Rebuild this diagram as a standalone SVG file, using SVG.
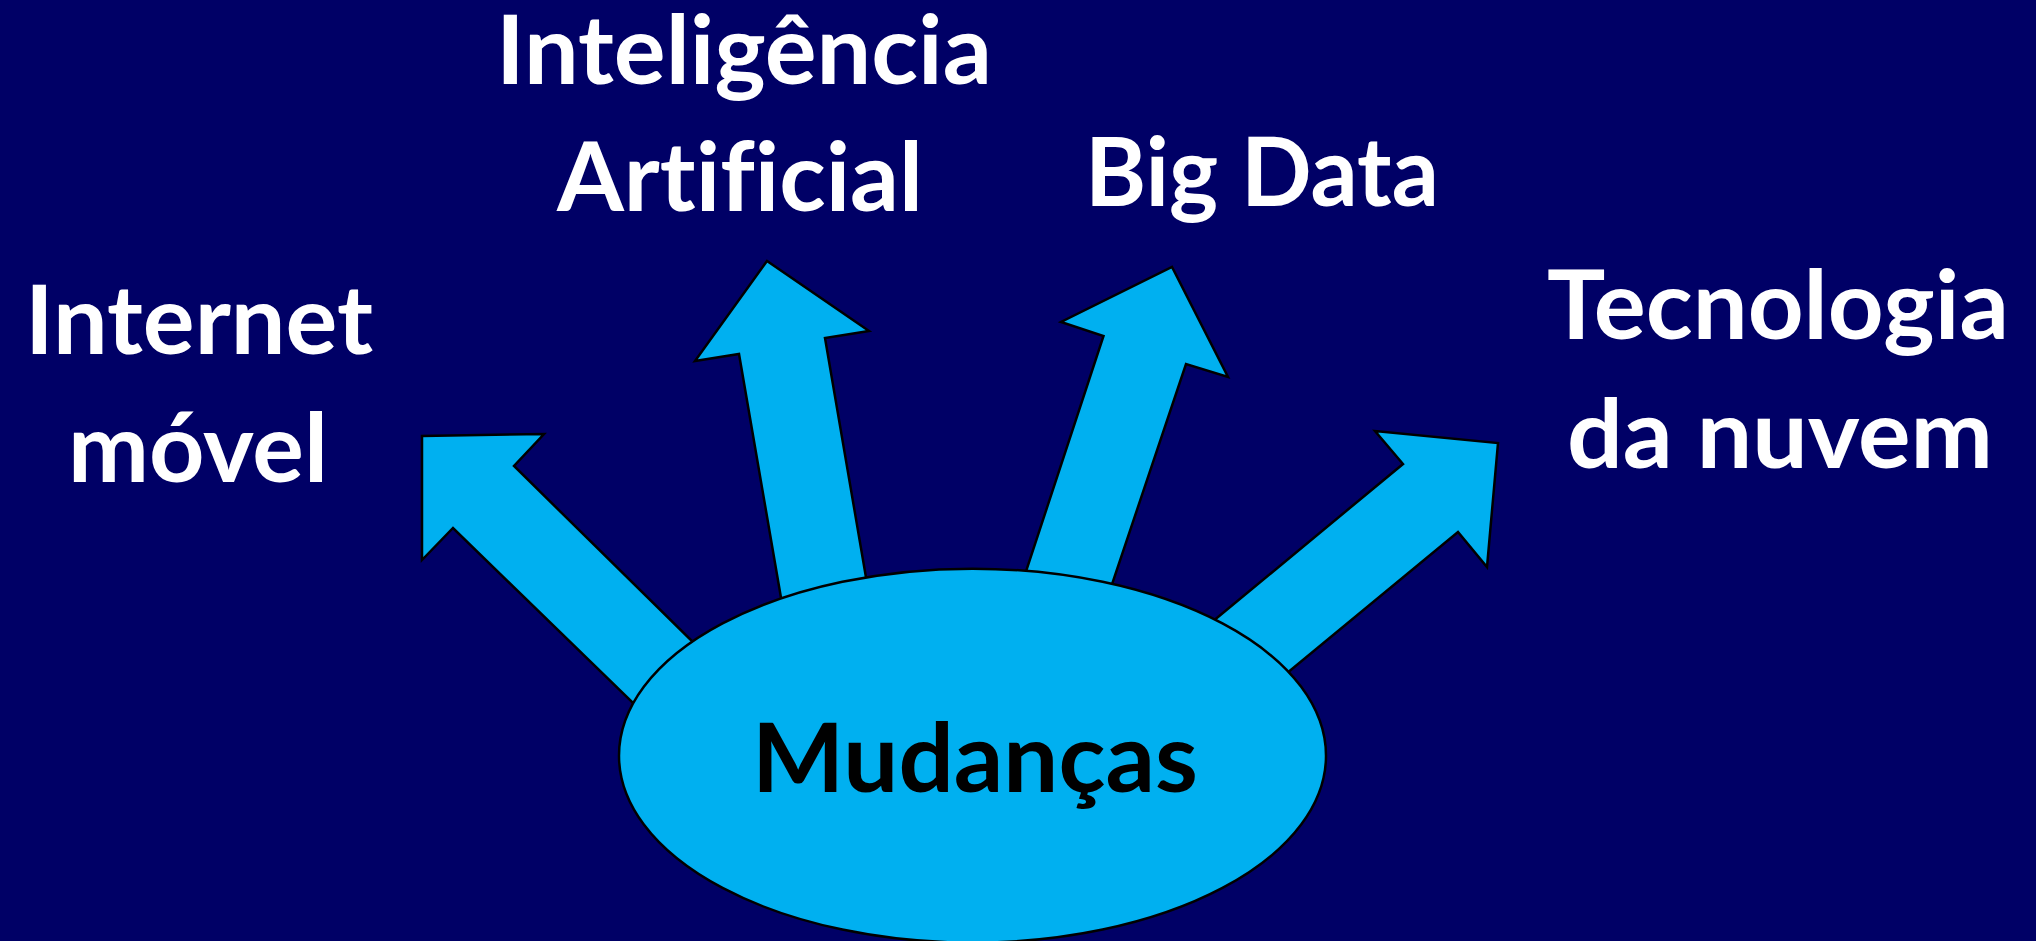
<svg xmlns="http://www.w3.org/2000/svg" width="2036" height="941" viewBox="0 0 2036 941">
<style>
text{font-variant-ligatures:none;font-feature-settings:"liga" 0}
.lbl{font-family:Lato,"Open Sans","Liberation Sans",sans-serif;font-weight:bold;font-size:95px;fill:#ffffff;text-anchor:middle}
.arrow{fill:#00B0F0;stroke:#000000;stroke-width:2.5;stroke-linejoin:miter}
.center{fill:#00B0F0;stroke:#000000;stroke-width:2.5}
.ctext{font-family:Lato,"Open Sans","Liberation Sans",sans-serif;font-weight:bold;font-size:96px;fill:#000000;text-anchor:middle}
</style>
<rect width="2036" height="941" fill="#000066"/>
<g id="connectors">
<polygon class="arrow" points="760,708 514,466 544,434 422,436 422,560 453,528 700,768"/>
<polygon class="arrow" points="790,650 739,354 695,361 767,261 869,331 825,338 875,630"/>
<polygon class="arrow" points="1010,620 1103.5,336 1061,322 1172,267 1228,377 1186,364 1095,635"/>
<polygon class="arrow" points="1160,665 1403,464 1375,431 1498,443 1487,567 1458,532 1230,720"/>
</g>
<g id="node-mudancas">
<ellipse class="center" cx="972.5" cy="755.7" rx="353.5" ry="187"/>
<text class="ctext" x="975" y="792" textLength="446" lengthAdjust="spacingAndGlyphs">Mudanças</text>
</g>
<g id="node-internet">
<text class="lbl" x="199" y="354" textLength="348" lengthAdjust="spacingAndGlyphs">Internet</text>
<text class="lbl" x="198" y="482" textLength="260" lengthAdjust="spacingAndGlyphs">móvel</text>
</g>
<g id="node-ia">
<text class="lbl" x="744" y="84" textLength="496" lengthAdjust="spacingAndGlyphs">Inteligência</text>
<text class="lbl" x="740" y="211" textLength="366" lengthAdjust="spacingAndGlyphs">Artificial</text>
</g>
<g id="node-bigdata">
<text class="lbl" x="1262" y="206" textLength="354" lengthAdjust="spacingAndGlyphs">Big Data</text>
</g>
<g id="node-nuvem">
<text class="lbl" x="1778" y="339" textLength="462" lengthAdjust="spacingAndGlyphs">Tecnologia</text>
<text class="lbl" x="1780" y="468" textLength="426" lengthAdjust="spacingAndGlyphs">da nuvem</text>
</g>
</svg>
